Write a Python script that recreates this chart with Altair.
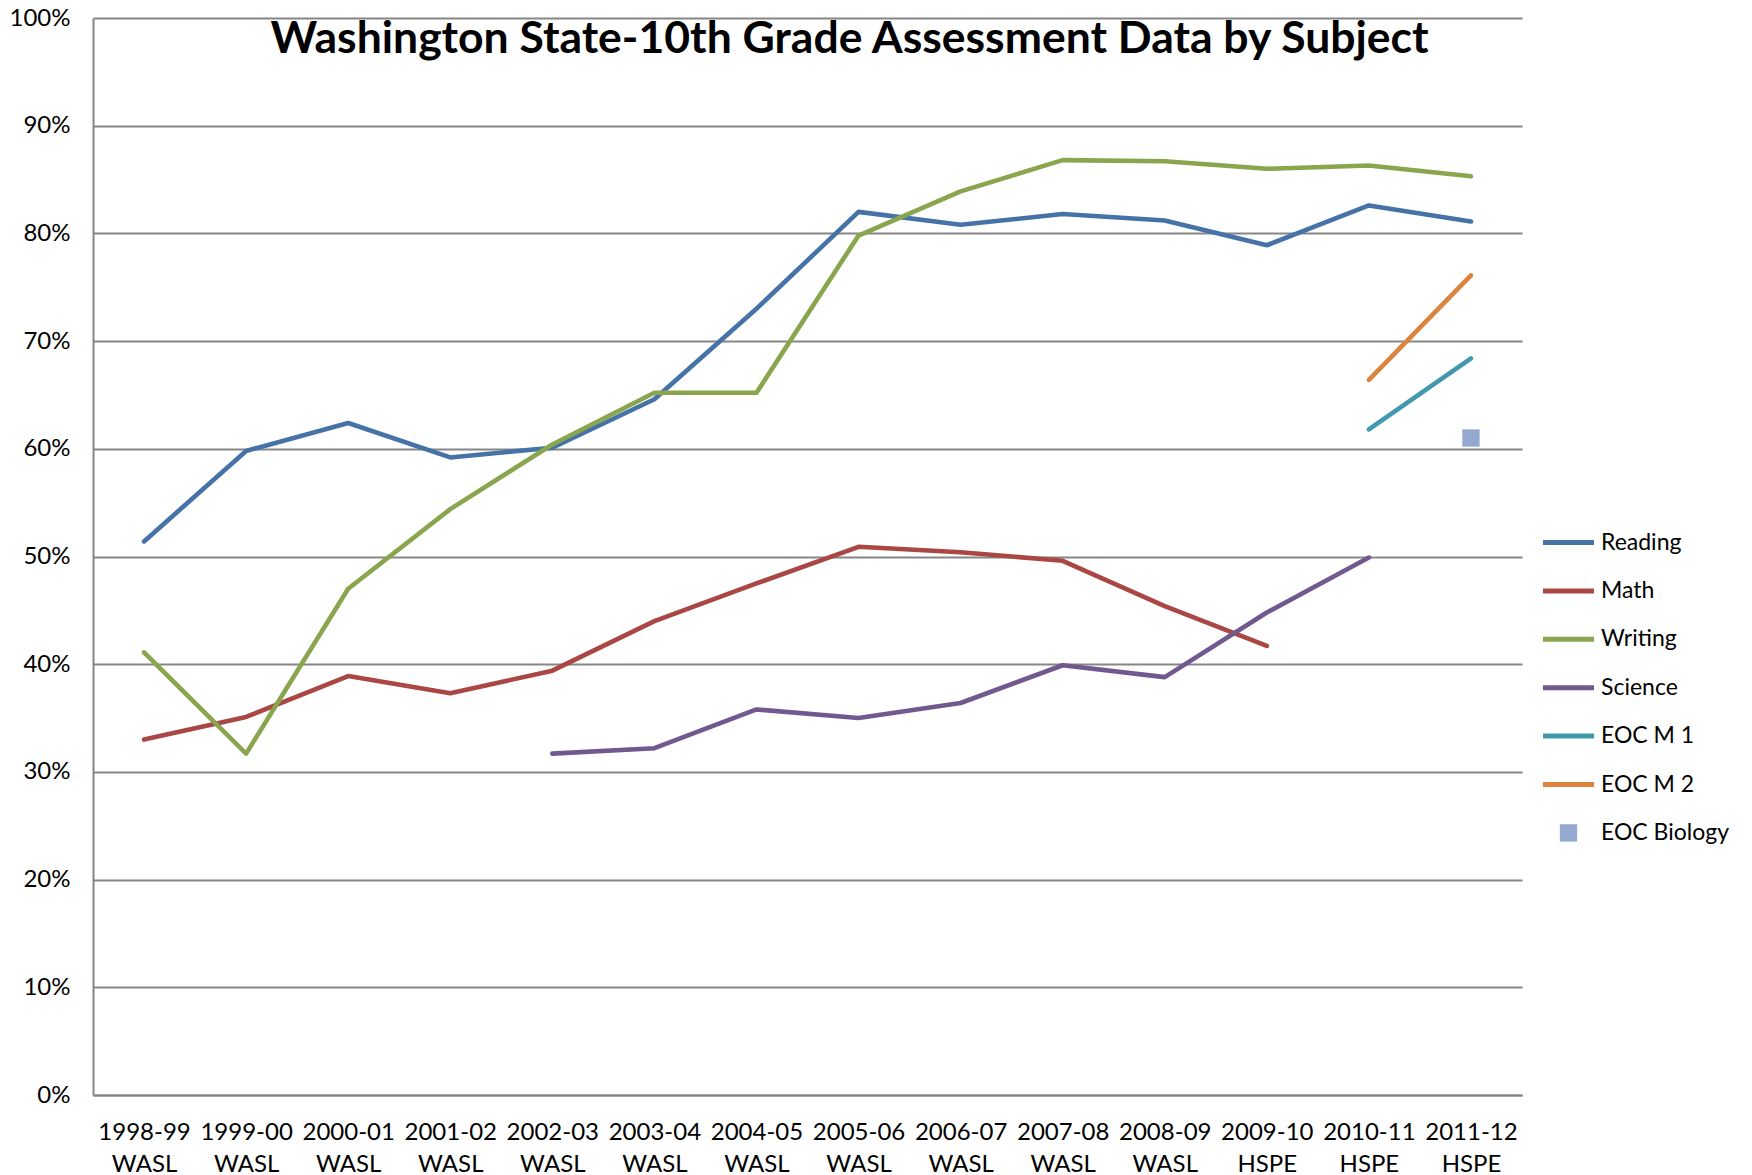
import altair as alt
import pandas as pd

years = ["1998-99", "1999-00", "2000-01", "2001-02", "2002-03", "2003-04", "2004-05",
         "2005-06", "2006-07", "2007-08", "2008-09", "2009-10", "2010-11", "2011-12"]
tests = ["WASL"] * 11 + ["HSPE"] * 3

reading = [51.4, 59.8, 62.4, 59.2, 60.1, 64.6, 73.0, 82.0, 80.8, 81.8, 81.2, 78.9, 82.6, 81.1]
math_ = [33.0, 35.1, 38.9, 37.3, 39.4, 44.0, 47.5, 50.9, 50.4, 49.6, 45.4, 41.7, None, None]
writing = [41.1, 31.7, 47.0, 54.4, 60.4, 65.2, 65.2, 79.8, 83.9, 86.8, 86.7, 86.0, 86.3, 85.3]
science = [None, None, None, None, 31.7, 32.2, 35.8, 35.0, 36.4, 39.9, 38.8, 44.8, 49.9, None]
eoc_m1 = [None] * 12 + [61.8, 68.4]
eoc_m2 = [None] * 12 + [66.4, 76.1]
eoc_bio = [None] * 13 + [61.0]

series_names = ["Reading", "Math", "Writing", "Science", "EOC M 1", "EOC M 2", "EOC Biology"]
series_values = [reading, math_, writing, science, eoc_m1, eoc_m2, eoc_bio]
colors = ["#4572A7", "#AA4643", "#89A54E", "#71588F", "#4198AF", "#DB843D", "#93A9CF"]

cats = [f"{y} {t}" for y, t in zip(years, tests)]
rows = []
for name, vals in zip(series_names, series_values):
    for c, v in zip(cats, vals):
        if v is not None:
            rows.append({"cat": c, "series": name, "value": v / 100.0})
df = pd.DataFrame(rows)

FONT = "Lato"

x = alt.X("cat:N", sort=cats, scale=alt.Scale(type="point", padding=0.5),
          axis=alt.Axis(title=None, labelExpr="split(datum.label, ' ')", labelAngle=0,
                        labelFontSize=24, labelFont=FONT, labelColor="black",
                        labelLineHeight=32, labelPadding=25, ticks=False,
                        domainColor="#868686", domainWidth=2, grid=False))
y = alt.Y("value:Q", scale=alt.Scale(domain=[0, 1], nice=False, zero=True),
          axis=alt.Axis(title=None, format="%", values=[i / 10 for i in range(11)],
                        labelFontSize=24, labelFont=FONT, labelColor="black",
                        labelPadding=23, ticks=False, domainColor="#868686",
                        domainWidth=2, grid=True, gridColor="#868686", gridWidth=2))

bio_sig = "datum.value === 'EOC Biology'"
legend = alt.Legend(
    title=None, orient="none", legendX=1464, legendY=513,
    labelFontSize=23, labelFont=FONT, labelColor="black", labelOffset=21,
    rowPadding=24.4,
    symbolType=alt.ExprRef(expr=f"{bio_sig} ? 'square' : 'stroke'"),
    symbolSize=alt.ExprRef(expr=f"{bio_sig} ? 300 : 2600"),
    symbolStrokeWidth=alt.ExprRef(expr=f"{bio_sig} ? 0 : 5"),
    symbolOpacity=1,
)
color = alt.Color("series:N", scale=alt.Scale(domain=series_names, range=colors), legend=legend)

base = alt.Chart(df)
lines = base.transform_filter("datum.series !== 'EOC Biology'").mark_line(
    strokeWidth=4.6, strokeCap="round", strokeJoin="round").encode(x=x, y=y, color=color)
points = base.transform_filter("datum.series === 'EOC Biology'").mark_point(
    shape="square", filled=True, size=300, opacity=1).encode(x=x, y=y, color=color)

chart = alt.layer(lines, points).properties(
    width=1429, height=1077,
    title=alt.Title("Washington State-10th Grade Assessment Data by Subject",
                    fontSize=44.5, fontWeight="bold", font=FONT, color="black",
                    anchor="middle", frame="group", offset=-91, baseline="alphabetic", dx=42),
    autosize=alt.AutoSizeParams(type="none"),
    padding={"left": 85, "top": 10, "right": 222, "bottom": 80},
).configure_view(stroke=None)

chart.save("out.html", embed_options={"renderer": "svg", "actions": False})
